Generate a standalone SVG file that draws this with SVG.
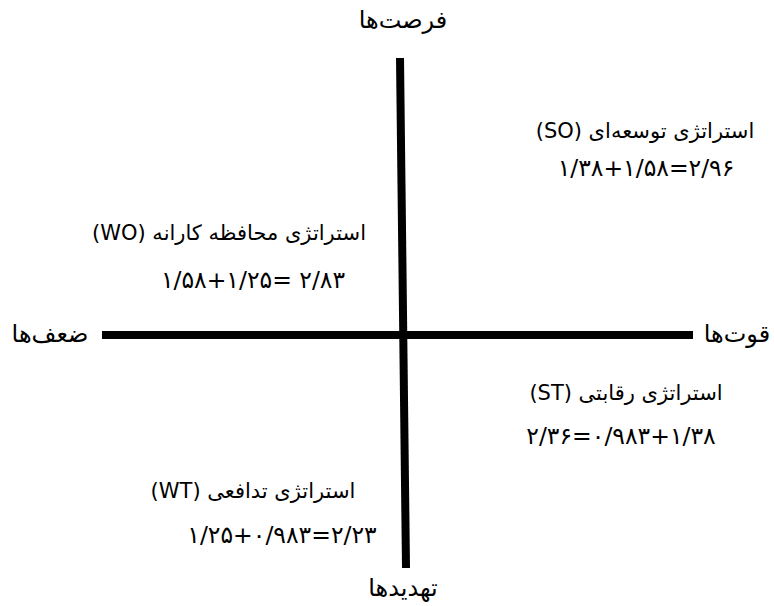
<svg xmlns="http://www.w3.org/2000/svg" width="774" height="606" viewBox="0 0 774 606">
<style>
text{font-family:"DejaVu Sans","Noto Sans",sans-serif;fill:#000}
.ax{font-size:24px}
.st{font-size:21px}
.num{font-size:23.5px}
.axis{stroke:#000;stroke-width:8;fill:none}
</style>
<rect width="774" height="606" fill="#fff"/>
<g id="connectors">
<line class="axis" x1="102" y1="335" x2="693" y2="335"/>
<line class="axis" x1="400" y1="58" x2="406" y2="568"/>
</g>
<g id="opportunities"><text class="ax" x="403" y="28" text-anchor="middle" direction="rtl">فرصت‌ها</text></g>
<g id="threats"><text class="ax" x="403" y="596" text-anchor="middle" direction="rtl">تهدیدها</text></g>
<g id="weaknesses"><text class="ax" x="50" y="342" text-anchor="middle" direction="rtl">ضعف‌ها</text></g>
<g id="strengths"><text class="ax" x="737" y="342" text-anchor="middle" direction="rtl">قوت‌ها</text></g>
<g id="so">
<text class="st" x="645" y="138" text-anchor="middle" direction="rtl">استراتژی توسعه‌ای (SO)</text>
<text class="num" x="646" y="176" text-anchor="middle" direction="ltr">۱/۳۸+۱/۵۸=۲/۹۶</text>
</g>
<g id="wo">
<text class="st" x="229" y="240" text-anchor="middle" direction="rtl">استراتژی محافظه کارانه (WO)</text>
<text class="num" x="253" y="288" text-anchor="middle" direction="ltr">۱/۵۸+۱/۲۵= ۲/۸۳</text>
</g>
<g id="st">
<text class="st" x="626" y="400" text-anchor="middle" direction="rtl">استراتژی رقابتی (ST)</text>
<text class="num" x="621" y="444" text-anchor="middle" direction="ltr">۲/۳۶=۰/۹۸۳+۱/۳۸</text>
</g>
<g id="wt">
<text class="st" x="253" y="498" text-anchor="middle" direction="rtl">استراتژی تدافعی (WT)</text>
<text class="num" x="282" y="543" text-anchor="middle" direction="ltr">۱/۲۵+۰/۹۸۳=۲/۲۳</text>
</g>
</svg>
